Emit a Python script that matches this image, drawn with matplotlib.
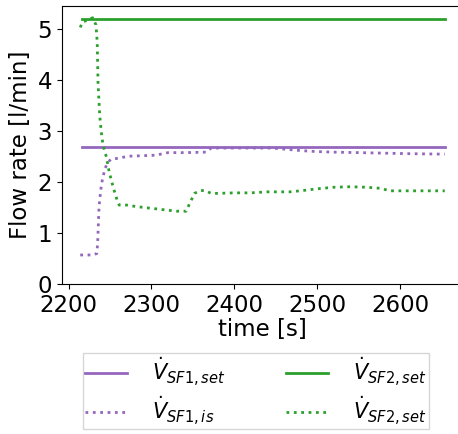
import numpy as np
import matplotlib
matplotlib.use("Agg")
import matplotlib.pyplot as plt

# set points (constant over the run)
t_set = [2216, 2654]
sf1_set = [2.7, 2.7]
sf2_set = [5.2, 5.2]

# measured SF1 flow
t_sf1 = [2214, 2223, 2230, 2234, 2235, 2236.7, 2238.8, 2240.8, 2244, 2247, 2251,
         2260, 2272, 2290, 2305, 2314, 2320, 2340, 2366, 2372, 2400, 2420,
         2445, 2460, 2480, 2500, 2520, 2550, 2580, 2610, 2654]
sf1_is = [0.57, 0.57, 0.57, 0.6, 0.8, 1.52, 1.85, 2.06, 2.27, 2.38, 2.45,
          2.47, 2.51, 2.52, 2.53, 2.56, 2.58, 2.58, 2.59, 2.67, 2.67, 2.67,
          2.67, 2.65, 2.62, 2.6, 2.59, 2.58, 2.57, 2.56, 2.55]

# measured SF2 flow
t_sf2 = [2214, 2217, 2223, 2229, 2233, 2234.5, 2235.5, 2237.6, 2239.6, 2241.6,
         2245.5, 2249, 2254.5, 2258.5, 2261, 2270, 2282, 2298, 2314, 2330,
         2342, 2346, 2352, 2358, 2364, 2372, 2380, 2400, 2420, 2440, 2467,
         2485, 2500, 2520, 2540, 2560, 2576, 2588, 2610, 2654]
sf2_is = [5.04, 5.15, 5.18, 5.23, 5.09, 4.75, 3.94, 3.29, 2.96, 2.72,
          2.5, 2.2, 1.86, 1.65, 1.55, 1.55, 1.52, 1.49, 1.46, 1.43,
          1.43, 1.58, 1.78, 1.83, 1.84, 1.78, 1.78, 1.79, 1.79, 1.81, 1.81,
          1.84, 1.87, 1.9, 1.91, 1.9, 1.88, 1.83, 1.83, 1.83]

fig = plt.figure(figsize=(4.58, 4.34), dpi=100)
ax = fig.add_axes([62 / 458, 150 / 434, 401 / 458, 278 / 434])

ax.plot(t_set, sf1_set, color="tab:purple", lw=2, label=r"$\dot{V}_{SF1,set}$")
ax.plot(t_sf1, sf1_is, color="tab:purple", lw=2, ls=":", label=r"$\dot{V}_{SF1,is}$")
ax.plot(t_set, sf2_set, color="tab:green", lw=2, label=r"$\dot{V}_{SF2,set}$")
ax.plot(t_sf2, sf2_is, color="tab:green", lw=2, ls=":", label=r"$\dot{V}_{SF2,set}$")

ax.set_xlim(2192, 2676)
ax.set_ylim(0, 5.46)
ax.set_xticks([2200, 2300, 2400, 2500, 2600])
ax.set_yticks([0, 1, 2, 3, 4, 5])
ax.tick_params(labelsize=16.5)
ax.set_xlabel("time [s]", fontsize=16.5, labelpad=1)
ax.set_ylabel("Flow rate [l/min]", fontsize=16.5, labelpad=4)

fig.legend(loc="upper center", bbox_to_anchor=(256 / 458, 1 - 353 / 434),
           ncol=2, fontsize=15, fancybox=False, edgecolor="#cccccc",
           borderpad=0.1, borderaxespad=0, labelspacing=0.3,
           handletextpad=1.2, columnspacing=2.9)

fig.savefig("out.png", dpi=100)
